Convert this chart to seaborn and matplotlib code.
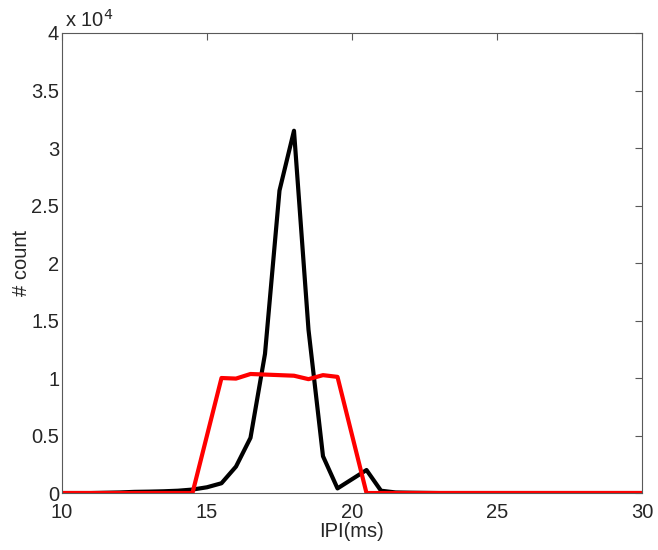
import matplotlib
matplotlib.use('Agg')
import matplotlib.pyplot as plt
from matplotlib.ticker import FuncFormatter
import pandas as pd
import seaborn as sns

# IPI (ms) bins and counts
ipi_black = [10, 11, 12, 12.5, 13, 13.5, 14, 14.5, 15, 15.5, 16, 16.5, 17, 17.5,
             18, 18.5, 19, 19.5, 20, 20.5, 21, 21.5, 22, 23, 25, 30]
count_black = [0, 0, 50, 100, 120, 150, 200, 300, 500, 850, 2300, 4800, 12100, 26300,
               31500, 14200, 3200, 400, 1200, 2000, 200, 50, 30, 0, 0, 0]

ipi_red = [10, 14.5, 15.5, 16, 16.5, 17, 17.5, 18, 18.5, 19, 19.5, 20.5, 30]
count_red = [0, 0, 10000, 9950, 10350, 10300, 10250, 10200, 9900, 10250, 10100, 0, 0]

df_black = pd.DataFrame({'IPI': ipi_black, 'count': count_black})
df_red = pd.DataFrame({'IPI': ipi_red, 'count': count_red})

sns.set_style('white')
plt.rcParams['font.family'] = ['Liberation Sans', 'DejaVu Sans']

fig = plt.figure(figsize=(6.58, 5.5), dpi=100)
ax = fig.add_axes([0.0942, 0.1036, 0.8815, 0.8364])

sns.lineplot(x='IPI', y='count', data=df_black, color='black', linewidth=3, ax=ax)
sns.lineplot(x='IPI', y='count', data=df_red, color='#ff0000', linewidth=3, ax=ax)

ax.set_xlim(10, 30)
ax.set_ylim(0, 40000)
ax.set_xticks([10, 15, 20, 25, 30])
ax.set_yticks([0, 5000, 10000, 15000, 20000, 25000, 30000, 35000, 40000])
ax.yaxis.set_major_formatter(FuncFormatter(lambda v, p: '%g' % (v / 1e4)))

ax.tick_params(direction='in', length=5, width=0.8, color='0.35', labelsize=14.5,
               top=True, right=True, pad=2)
ax.tick_params(axis='x', pad=7)
for s in ax.spines.values():
    s.set_color('0.35')
    s.set_linewidth(0.8)

ax.set_xlabel('IPI(ms)', fontsize=14.5, labelpad=0)
ax.set_ylabel('# count', fontsize=14.5, labelpad=0)
ax.text(0.005, 1.004, r'x 10$^{4}$', transform=ax.transAxes, fontsize=14.5,
        ha='left', va='bottom')

plt.savefig('out.png', dpi=100)
